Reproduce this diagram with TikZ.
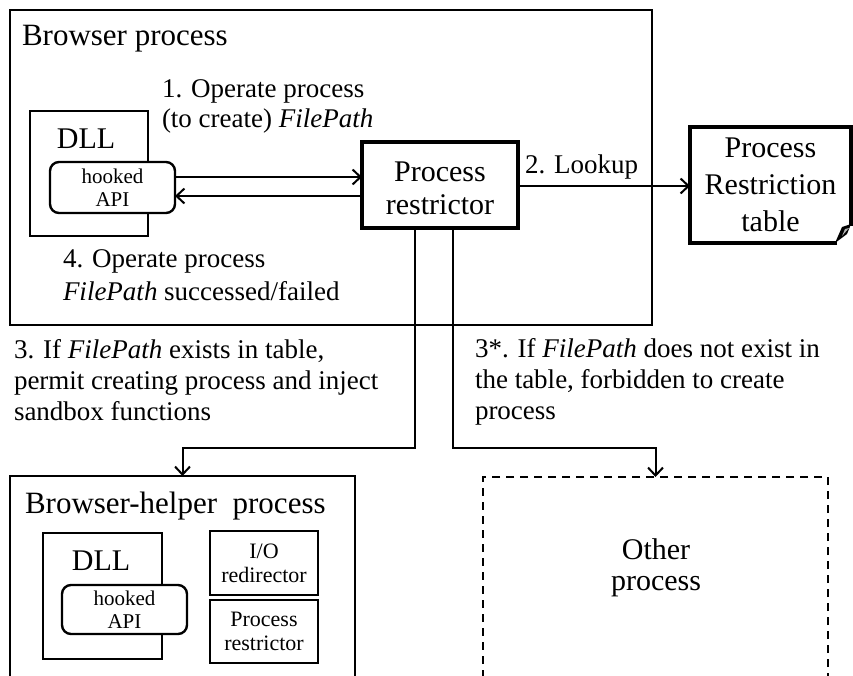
\documentclass[tikz,border=0pt]{standalone}
\usepackage{fontspec}
\setmainfont{Liberation Serif}
\usetikzlibrary{arrows.meta}

\begin{document}
\begin{tikzpicture}[x=1pt, y=-1pt,
  every node/.style={inner sep=0pt, outer sep=0pt},
  frame/.style={draw, line width=2.4pt, rectangle},
  heavy/.style={draw, line width=4.5pt, rectangle},
  dashframe/.style={draw, line width=2.4pt, dash pattern=on 8pt off 6pt, rectangle},
  apibox/.style={draw, line width=2.4pt, rectangle, rounded corners=9pt,
    font=\fontsize{21}{23}\selectfont, align=center},
  smallbox/.style={draw, line width=2.4pt, rectangle,
    font=\fontsize{22}{24}\selectfont, align=center},
  conn/.style={line width=2pt, -{Straight Barb[length=8pt, width=15pt, line width=2pt]}},
  title/.style={font=\fontsize{31}{34}\selectfont, anchor=base west},
  big/.style={font=\fontsize{30}{33}\selectfont},
  note/.style={font=\fontsize{27}{30}\selectfont, align=left, anchor=base west},
]
\clip (0,0) rectangle (853,675);
\fill[white] (0,0) rectangle (853,675);

% ---------- browser process ----------
\node[frame, minimum width=642pt, minimum height=315pt] (browser) at (331,167.5) {};
\node[title] (browsertitle) at (22,45) {Browser process};

\node[frame, minimum width=118pt, minimum height=125pt] (dllA) at (89,173.5) {};
\node[big, anchor=base] (dllAtext) at (86,148) {DLL};
\node[apibox, fill=white, minimum width=125pt, minimum height=51pt] (apiA) at (112.5,187.5) {hooked\\API};

\node[heavy, minimum width=156pt, minimum height=86pt, big, align=center]
  (restrictor) at (440,185) {\rule{0pt}{26pt}Process\\restrictor};

% ---------- restriction table (document with curled corner) ----------
\node[minimum width=161pt, minimum height=116pt, font=\fontsize{30}{37}\selectfont, align=center]
  (table) at (770.5,185) {Process\\Restriction\\table};
\draw[line width=4.5pt, line join=miter]
  ([xshift=-14pt]table.south east) -- (table.south west) -- (table.north west)
  -- (table.north east) -- ([yshift=17pt]table.south east);
\fill ([xshift=-16pt]table.south east) -- ++(7,-16) -- ([yshift=19pt]table.south east)
  -- ++(-4,10) -- cycle;
\fill[gray!60] ([xshift=-9pt,yshift=7pt]table.south east) -- ++(3,-7) -- ++(4,-1) -- cycle;

% ---------- connectors inside the browser process ----------
\coordinate (yf) at (0,177);
\coordinate (yb) at (0,196);
\coordinate (yl) at (0,186);
\coordinate (yd) at (0,448);
\draw[conn] (apiA.east |- yf) -- (restrictor.west |- yf);
\draw[conn] (restrictor.west |- yb) -- (apiA.east |- yb);
\draw[conn] (restrictor.east |- yl) -- (table.west |- yl);

% multi-line labels are anchored at the baseline of their last line
\node[note] (step1) at (162,127) {1. Operate process\\(to create) \textit{FilePath}};
\node[font=\fontsize{27}{30}\selectfont, anchor=base west] (step2) at (525,173) {2. Lookup};
\node[note, font=\fontsize{27}{33}\selectfont] (step4) at (63,300) {4. Operate process\\\textit{FilePath} successed/failed};

% ---------- browser-helper process ----------
\node[frame, minimum width=345pt, minimum height=224pt] (helper) at (182.5,588) {};
\node[title] (helpertitle) at (25,513) {Browser-helper\ \ process};
\node[frame, minimum width=119pt, minimum height=126pt] (dllB) at (102.5,596) {};
\node[big, anchor=base] (dllBtext) at (101,570) {DLL};
\node[apibox, fill=white, minimum width=125pt, minimum height=49pt] (apiB) at (124.5,609.5) {hooked\\API};
\node[smallbox, minimum width=108pt, minimum height=64pt] (io) at (264,563) {I/O\\redirector};
\node[smallbox, minimum width=108pt, minimum height=63pt] (prB) at (264,631.5) {Process\\restrictor};

% ---------- other process ----------
\node[dashframe, minimum width=345pt, minimum height=223pt] (other) at (655.5,588.5) {};
\node[big, align=center, font=\fontsize{30}{31}\selectfont, anchor=base] (othertext) at (656,590) {Other\\process};

% ---------- decision connectors ----------
\draw[conn] ([xshift=-25pt]restrictor.south) -- ([xshift=-25pt]restrictor.south |- yd) -| (helper.north);
\draw[conn] ([xshift=13pt]restrictor.south) -- ([xshift=13pt]restrictor.south |- yd) -| (other.north);

\node[note, font=\fontsize{27}{31}\selectfont] (step3) at (14,420)
  {3. If \textit{FilePath} exists in table,\\permit creating process and inject\\sandbox functions};
\node[note, font=\fontsize{27}{31}\selectfont] (step3b) at (475,419)
  {3*. If \textit{FilePath} does not exist in\\the table, forbidden to create\\process};
\end{tikzpicture}
\end{document}
